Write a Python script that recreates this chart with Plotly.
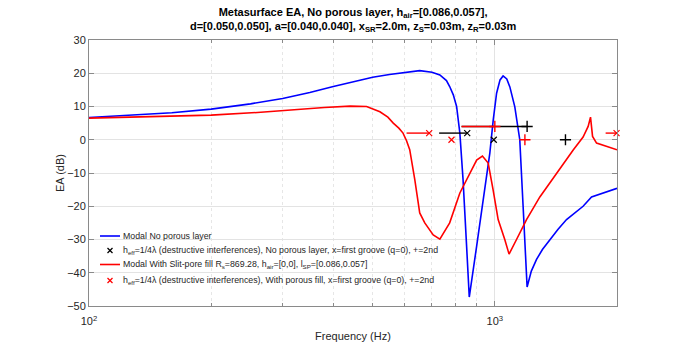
import plotly.graph_objects as go

# --- data ---
f_blue = [100, 133, 160, 200, 250, 300, 350, 400, 450, 500, 550, 600, 653, 700, 732, 760, 774, 790,
          805, 820, 835, 852, 865, 902, 936, 972, 991, 1010, 1030, 1048, 1070, 1089,
          1120, 1152, 1174, 1201, 1230, 1267, 1310, 1366, 1430, 1502, 1570, 1650, 1731, 1800, 1884, 2000]
ea_blue = [6.7, 7.5, 8.1, 9.2, 10.8, 12.4, 14.2, 16.0, 17.6, 18.8, 19.6, 20.2, 20.8, 20.3, 19.5, 17.8, 16.0, 13.5,
           10.0, 2.0, -12.0, -32.0, -47.3, -32.0, -18.0, -4.0, 6.0, 14.0, 18.0, 19.2, 18.3, 15.9,
           9.9, 0.0, -20.0, -44.3, -39.5, -36.0, -33.0, -30.0, -27.0, -24.0, -22.0, -20.0, -17.2, -16.5, -15.7, -14.6]

f_red = [100, 150, 200, 260, 330, 380, 440, 483, 521, 545, 562, 580, 594, 606, 617, 626, 635, 644, 653, 672, 705, 732, 774,
         820, 868, 902, 932, 963, 990, 1019, 1058, 1084, 1131, 1197, 1291, 1419, 1560,
         1650, 1698, 1721, 1741, 1781, 1884, 2000]
ea_red = [6.5, 6.9, 7.4, 8.2, 9.2, 9.7, 10.1, 10.0, 8.4, 6.8, 5.0, 3.5, 2.0, -0.3, -3.0, -7.0, -12.0, -17.0, -22.0, -25.0, -28.6, -29.9, -25.0,
          -16.0, -10.0, -6.1, -4.9, -7.0, -15.0, -24.0, -30.0, -34.4, -30.0, -24.0, -17.2, -10.0, -3.1,
          0.8, 4.0, 6.8, 1.0, -1.0, -1.9, -3.0]

# quarter-wavelength markers (first groove 'x', second '+')
f_x_black = [855, 994]
ea_x_black = [2.0, 0.0]
f_p_black = [1201, 1493]
ea_p_black = [4.0, 0.0]
f_x_red = [689, 782, 1995]
ea_x_red = [2.0, 0.0, 2.0]
f_p_red = [1000, 1186]
ea_p_red = [4.0, 0.0]

# horizontal range segments: (f_start, f_end, level)
seg_black = [(729, 855, 2.0), (828, 1201, 4.0)]
seg_red = [(606, 689, 2.0), (828, 1000, 4.0), (1875, 1995, 2.0)]

# legend entries
legend_labels = [
    "Modal No porous layer",
    "h<sub>eff</sub>=1/4λ (destructive interferences), No porous layer, x=first groove (q=0), +=2nd",
    "Modal With Slit-pore fill R<sub>s</sub>=869.28, h<sub>air</sub>=[0,0], l<sub>SP</sub>=[0.086,0.057]",
    "h<sub>eff</sub>=1/4λ (destructive interferences), With porous fill, x=first groove (q=0), +=2nd",
]

BLUE = "#0000ff"
RED = "#ff0000"
BLACK = "#000000"

fig = go.Figure()

fig.add_trace(go.Scatter(x=f_blue, y=ea_blue, mode="lines", line=dict(color=BLUE, width=1.6),
                         name=legend_labels[0]))
for (a, b, lv) in seg_black:
    fig.add_trace(go.Scatter(x=[a, b], y=[lv, lv], mode="lines", line=dict(color=BLACK, width=1.4),
                             hoverinfo="skip"))
fig.add_trace(go.Scatter(x=f_x_black, y=ea_x_black, mode="markers", cliponaxis=False,
                         marker=dict(symbol="x-thin-open", size=6, color=BLACK, line=dict(color=BLACK, width=1.2)),
                         name=legend_labels[1]))
fig.add_trace(go.Scatter(x=f_p_black, y=ea_p_black, mode="markers", cliponaxis=False,
                         marker=dict(symbol="cross-thin-open", size=8, color=BLACK, line=dict(color=BLACK, width=1.4))))

fig.add_trace(go.Scatter(x=f_red, y=ea_red, mode="lines", line=dict(color=RED, width=1.6),
                         name=legend_labels[2]))
for (a, b, lv) in seg_red:
    fig.add_trace(go.Scatter(x=[a, b], y=[lv, lv], mode="lines", line=dict(color=RED, width=1.4),
                             hoverinfo="skip"))
fig.add_trace(go.Scatter(x=f_x_red, y=ea_x_red, mode="markers", cliponaxis=False,
                         marker=dict(symbol="x-thin-open", size=6, color=RED, line=dict(color=RED, width=1.2)),
                         name=legend_labels[3]))
fig.add_trace(go.Scatter(x=f_p_red, y=ea_p_red, mode="markers", cliponaxis=False,
                         marker=dict(symbol="cross-thin-open", size=8, color=RED, line=dict(color=RED, width=1.4))))

FONT = "Arial, Liberation Sans, sans-serif"
AX = "#8a8a8a"
TXT = "#262626"
minor_vals = [200, 300, 400, 500, 600, 700, 800, 900, 2000]

# --- compact legend (MATLAB-style) drawn in paper coordinates ---
PL, PR, PT, PB = 89, 617, 40, 306
def px(x):
    return (x - PL) / (PR - PL)
def py(y):
    return (PB - y) / (PB - PT)

legend_rows = [236, 250.5, 264.5, 280.5]
legend_kind = ["line", "x", "line", "x"]
legend_col = [BLUE, BLACK, RED, RED]
shapes = []
annotations = []
for lab, yrow, kind, col in zip(legend_labels, legend_rows, legend_kind, legend_col):
    if kind == "line":
        shapes.append(dict(type="line", xref="paper", yref="paper",
                           x0=px(100), x1=px(120), y0=py(yrow), y1=py(yrow),
                           line=dict(color=col, width=1.6)))
    else:
        for s in (1, -1):
            shapes.append(dict(type="line", xref="paper", yref="paper",
                               x0=px(107.5), x1=px(112.5), y0=py(yrow - 2.5 * s), y1=py(yrow + 2.5 * s),
                               line=dict(color=col, width=1.2)))
    annotations.append(dict(text=lab, xref="paper", yref="paper", x=px(121), y=py(yrow),
                            xanchor="left", yanchor="middle", showarrow=False,
                            font=dict(family=FONT, size=8.8, color=TXT)))

fig.update_layout(
    width=683, height=345,
    margin=dict(l=PL, r=683 - PR, t=PT, b=345 - PB, autoexpand=False),
    paper_bgcolor="white", plot_bgcolor="white",
    font=dict(family=FONT, size=11, color=TXT),
    title=dict(
        text="<b>Metasurface EA, No porous layer, h<sub>air</sub>=[0.086,0.057],<br>"
             "d=[0.050,0.050], a=[0.040,0.040], x<sub>SR</sub>=2.0m, z<sub>S</sub>=0.03m, z<sub>R</sub>=0.03m</b>",
        x=0.517, xanchor="center", y=0.954, yanchor="top",
        font=dict(family=FONT, size=11, color="#000000"),
    ),
    showlegend=False,
    shapes=shapes,
    annotations=annotations,
    xaxis=dict(
        type="log", range=[2, 3.30103], automargin=False,
        tickvals=[100, 1000], ticktext=["10<sup>2</sup>", "10<sup>3</sup>"],
        ticks="inside", ticklen=5, tickcolor=AX, ticklabelstandoff=5,
        showline=True, linecolor=AX, linewidth=1, mirror="ticks",
        showgrid=True, gridcolor="#e3e3e3", gridwidth=1,
        minor=dict(tickvals=minor_vals, ticks="inside", ticklen=3, tickcolor=AX,
                   showgrid=True, gridcolor="#e6e6e6", griddash="dot"),
        title=dict(text="Frequency (Hz)", font=dict(size=11, color=TXT), standoff=6),
        zeroline=False,
        tickfont=dict(size=11, color=TXT),
    ),
    yaxis=dict(
        range=[-50, 30], dtick=10, tick0=0, automargin=False,
        ticks="inside", ticklen=5, tickcolor=AX,
        showline=True, linecolor=AX, linewidth=1, mirror="ticks",
        showgrid=True, gridcolor="#e3e3e3", gridwidth=1,
        zeroline=False,
        title=dict(text="EA (dB)", font=dict(size=11, color=TXT), standoff=0),
        tickfont=dict(size=11, color=TXT),
    ),
)

fig.write_html("out.html")
